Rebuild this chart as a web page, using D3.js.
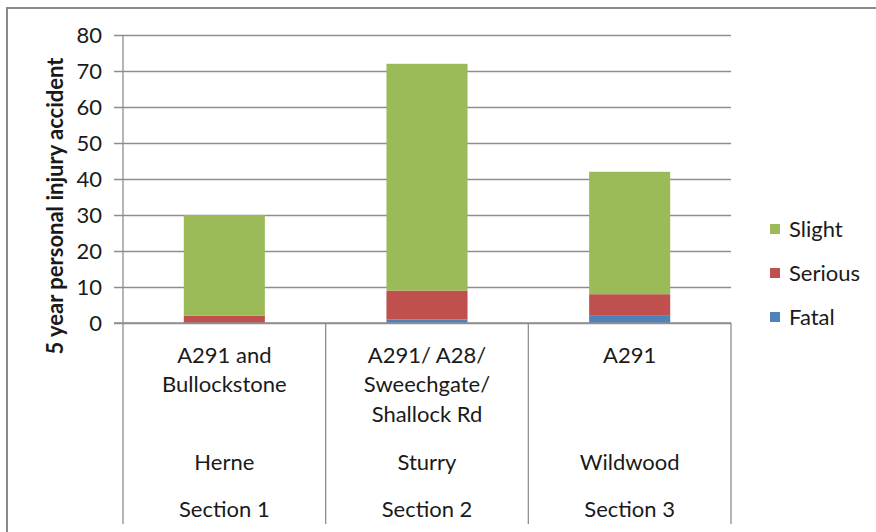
<!DOCTYPE html>
<html>
<head>
<meta charset="utf-8">
<script src="https://cdn.jsdelivr.net/npm/d3@7"></script>
<style>
  html, body { margin: 0; padding: 0; background: #fff; }
  svg { display: block; }
  text { font-family: "Lato", "Open Sans", sans-serif; fill: #1a1a1a; }
</style>
</head>
<body>
<svg id="chart" width="876" height="532"></svg>
<script>
// Accident counts per corridor (5-year period)
const roads    = [["A291 and", "Bullockstone"], ["A291/ A28/", "Sweechgate/", "Shallock Rd"], ["A291"]];
const places   = ["Herne", "Sturry", "Wildwood"];
const sections = ["Section 1", "Section 2", "Section 3"];
const fatal    = [0, 1, 2];
const serious  = [2, 8, 6];
const slight   = [28, 63, 34];
const seriesNames  = ["Fatal", "Serious", "Slight"];
const seriesColors = ["#4F81BD", "#C0504D", "#9BBB59"];
const yTicks = [0, 10, 20, 30, 40, 50, 60, 70, 80];

const FS = 22;
const svg = d3.select("#chart");

// outer chart frame
svg.append("rect")
  .attr("x", 7).attr("y", 8).attr("width", 900).attr("height", 560)
  .attr("fill", "#fff").attr("stroke", "#8a8a8a").attr("stroke-width", 2);

const plot = { left: 123, right: 731, top: 35, bottom: 323, axisBottom: 524 };

const x = d3.scaleBand().domain(places).range([plot.left, plot.right]).paddingInner(0).paddingOuter(0);
const y = d3.scaleLinear().domain([0, 80]).range([plot.bottom, plot.top]);

const rows = places.map((p, i) => ({ key: p, Fatal: fatal[i], Serious: serious[i], Slight: slight[i] }));
const stack = d3.stack().keys(seriesNames)(rows);

// gridlines + y ticks
const yAxis = d3.axisLeft(y).tickValues(yTicks).tickSize(plot.right - plot.left + 9).tickPadding(12).tickFormat(d3.format("d"));
const gy = svg.append("g").attr("transform", `translate(${plot.right},0)`).call(yAxis);
gy.select(".domain").remove();
gy.selectAll(".tick line").attr("stroke", "#8e8e8e").attr("stroke-width", 1.3);
gy.selectAll(".tick text").attr("font-size", FS).attr("fill", "#1a1a1a").attr("dy", "0.35em")
  .style("font-family", "Lato, 'Open Sans', sans-serif");

// bars
const barW = x.bandwidth() * 0.4;
svg.append("g").selectAll("g").data(stack).join("g")
  .attr("fill", (d, i) => seriesColors[i])
  .selectAll("rect").data(d => d).join("rect")
  .attr("x", d => x(d.data.key) + (x.bandwidth() - barW) / 2)
  .attr("width", barW)
  .attr("y", d => y(d[1]))
  .attr("height", d => y(d[0]) - y(d[1]));

// value axis line
svg.append("line")
  .attr("x1", plot.left).attr("x2", plot.left)
  .attr("y1", plot.top).attr("y2", plot.axisBottom)
  .attr("stroke", "#8e8e8e").attr("stroke-width", 1.3);

// category axis baseline and group dividers
svg.append("line")
  .attr("x1", plot.left - 9).attr("x2", plot.right)
  .attr("y1", plot.bottom).attr("y2", plot.bottom)
  .attr("stroke", "#8e8e8e").attr("stroke-width", 1.3);
places.forEach(p => {
  svg.append("line")
    .attr("x1", x(p) + x.bandwidth()).attr("x2", x(p) + x.bandwidth())
    .attr("y1", plot.bottom).attr("y2", plot.axisBottom)
    .attr("stroke", "#8e8e8e").attr("stroke-width", 1.3);
});

// multi-level category labels
const lab = svg.append("g").attr("text-anchor", "middle").attr("font-size", FS);
places.forEach((p, i) => {
  const cx = x(p) + x.bandwidth() / 2;
  roads[i].forEach((line, j) => {
    lab.append("text").attr("x", cx).attr("y", 355 + j * 29.5).attr("dy", "0.35em").text(line);
  });
  lab.append("text").attr("x", cx).attr("y", 462).attr("dy", "0.35em").text(p);
  lab.append("text").attr("x", cx).attr("y", 509).attr("dy", "0.35em").text(sections[i]);
});

// y axis title
svg.append("text")
  .attr("transform", "translate(55,206) rotate(-90)")
  .attr("text-anchor", "middle").attr("dy", "0.35em").attr("font-size", FS).attr("font-weight", "bold")
  .text("5 year personal injury accident");

// legend (Slight on top)
const legendItems = [2, 1, 0];
const lg = svg.append("g");
legendItems.forEach((s, k) => {
  const cy = 229 + k * 44;
  lg.append("rect").attr("x", 770).attr("y", cy - 5).attr("width", 10).attr("height", 10).attr("fill", seriesColors[s]);
  lg.append("text").attr("x", 789).attr("y", cy).attr("dy", "0.35em").attr("font-size", FS).text(seriesNames[s]);
});
</script>
</body>
</html>
